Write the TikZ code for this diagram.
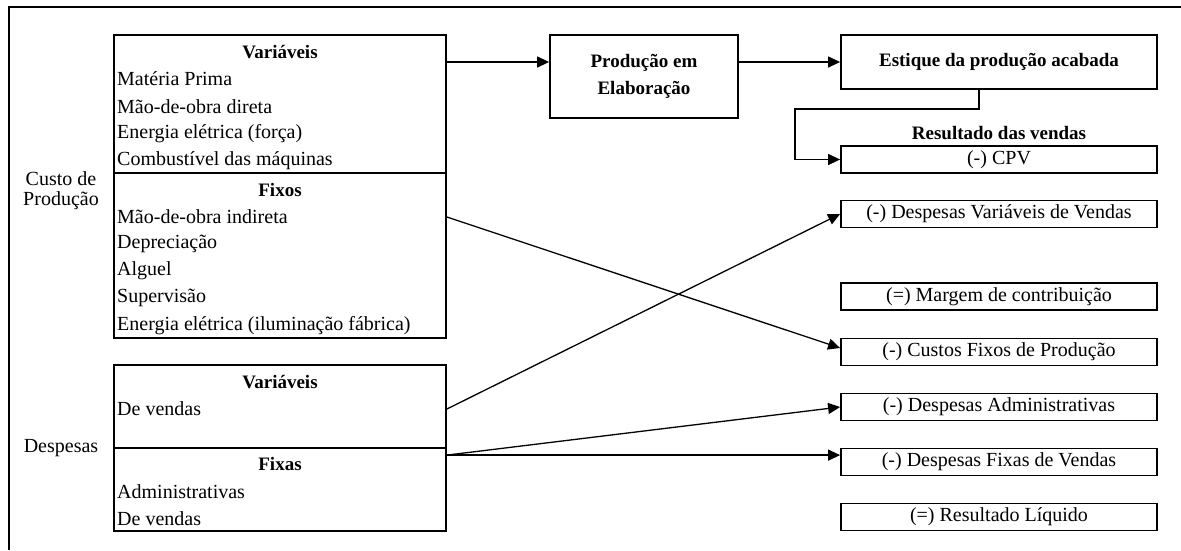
\documentclass[tikz,border=0pt]{standalone}
\usepackage{fontspec}
\setmainfont{Liberation Serif}
\usepackage{tikz}
\usetikzlibrary{arrows.meta,calc,positioning}

\begin{document}
\begin{tikzpicture}[
  x=1pt, y=-1pt,
  font=\fontsize{20}{20}\selectfont,
  group/.style={draw, line width=1.8pt, minimum width=332pt, inner sep=0pt},
  stage/.style={draw, line width=1.8pt, inner sep=0pt, align=center, font=\fontsize{19}{27}\selectfont\bfseries},
  result/.style={draw, line width=1.8pt, inner sep=0pt, minimum width=316pt, minimum height=27pt},
  head/.style={inner sep=0pt, font=\fontsize{19}{20}\selectfont\bfseries},
  item/.style={inner sep=0pt, anchor=west},
  side/.style={inner sep=0pt, align=center},
  arr/.style={-{Triangle[length=12pt,width=11pt]}, line width=1.3pt}
]
\useasboundingbox (0,0) rectangle (1181,550);
\draw[line width=1.6pt] (9,550) -- (9,7) -- (1181,7);

\node[group, minimum height=138pt] (cvar) at (280,104) {};
\node[group, minimum height=165pt] (cfix) at (280,255.5) {};
\node[group, minimum height=83pt] (dvar) at (280,406.5) {};
\node[group, minimum height=83pt] (dfix) at (280,489.5) {};

\node[head] (cvarh) at (280,52) {Variáveis};
\node[item] (mp) at (117,79) {Matéria Prima};
\node[item] (mdod) at (117,107) {Mão-de-obra direta};
\node[item] (forca) at (117,134) {Energia elétrica (força)};
\node[item] (comb) at (117,161) {Combustível das máquinas};
\node[head] (cfixh) at (280,190) {Fixos};
\node[item] (mdoi) at (117,217) {Mão-de-obra indireta};
\node[item] (depr) at (117,244) {Depreciação};
\node[item] (alug) at (117,271) {Alguel};
\node[item] (superv) at (117,298) {Supervisão};
\node[item] (ilum) at (117,326) {Energia elétrica (iluminação fábrica)};

\node[head] (dvarh) at (280,382) {Variáveis};
\node[item] (dvend) at (117,409) {De vendas};
\node[head] (dfixh) at (280,464) {Fixas};
\node[item] (adm) at (117,492) {Administrativas};
\node[item] (fvend) at (117,519) {De vendas};

\node[side] (custo) at (61,191) {Custo de\\Produção};
\node[side] (desp) at (61,448) {Despesas};

\node[stage, minimum width=188pt, minimum height=83pt] (prod) at (644,76.5) {Produção em\\Elaboração};
\node[stage, minimum width=316pt, minimum height=54pt] (est) at (999,62) {Estique da produção acabada};

\node[head] (resv) at (999,133) {Resultado das vendas};
\node[result] (cpv) at (999,159.5) {(-) CPV};
\node[result] (dvv) at (999,214) {(-) Despesas Variáveis de Vendas};
\node[result] (marg) at (999,296.5) {(=) Margem de contribuição};
\node[result] (cfp) at (999,352) {(-) Custos Fixos de Produção};
\node[result] (dadm) at (999,407) {(-) Despesas Administrativas};
\node[result] (dfv) at (999,462) {(-) Despesas Fixas de Vendas};
\node[result] (rliq) at (999,517) {(=) Resultado Líquido};

\coordinate (elb) at (795,109);
\coordinate (dsrc) at ([yshift=-8pt]dfix.north east);

\draw[arr] (cvar.east |- est.west) -- (prod.west |- est.west);
\draw[arr] (prod.east |- est.west) -- (est.west);
\draw[arr] ([xshift=-20pt]est.south) |- (elb) |- (cpv.west);
\draw[arr] (cfix.east |- mdoi) -- ([yshift=4pt]cfp.west);
\draw[arr] (dvar.east |- dvend) -- (dvv.west);
\draw[arr] (dsrc) -- (dadm.west);
\draw[arr] (dsrc) -- (dfv.west |- dsrc);
\end{tikzpicture}
\end{document}
